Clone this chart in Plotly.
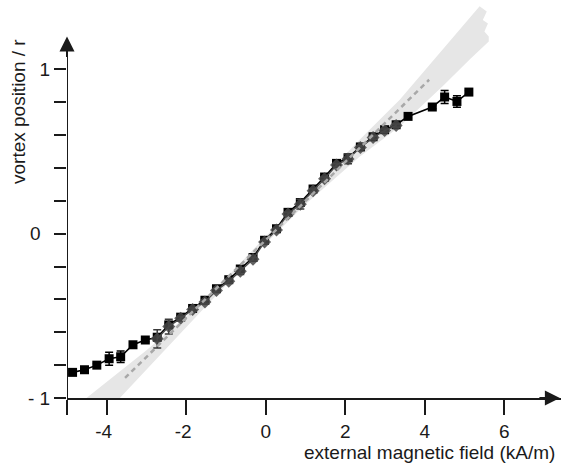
import plotly.graph_objects as go

# ---------------- data ----------------
# experiment (black squares)
exp_x = [-4.86, -4.56, -4.25, -3.94, -3.65, -3.34, -3.03, -2.73, -2.44, -2.14, -1.84,
         -1.53, -1.24, -0.93, -0.64, -0.32, -0.03, 0.27, 0.56, 0.87, 1.19, 1.48, 1.78,
         2.07, 2.38, 2.70, 2.99, 3.28, 3.58, 4.19, 4.50, 4.81, 5.11]
exp_y = [-0.844, -0.828, -0.800, -0.761, -0.749, -0.676, -0.647, -0.630, -0.555, -0.508,
         -0.455, -0.405, -0.335, -0.280, -0.215, -0.145, -0.040, 0.030, 0.130, 0.190,
         0.272, 0.345, 0.428, 0.462, 0.528, 0.590, 0.633, 0.663, 0.714, 0.771, 0.832,
         0.805, 0.862]
exp_err = [0.01, 0.01, 0.01, 0.04, 0.035, 0.01, 0.01, 0.02, 0.01, 0.01, 0.01,
           0.01, 0.01, 0.01, 0.01, 0.01, 0.01, 0.01, 0.01, 0.01, 0.01, 0.01, 0.01,
           0.01, 0.01, 0.01, 0.01, 0.01, 0.01, 0.01, 0.04, 0.035, 0.01]

# second series (gray)
sim_x = [-2.73, -2.44, -2.14, -1.84, -1.53, -1.24, -0.93, -0.64, -0.32, -0.03, 0.27,
         0.56, 0.87, 1.19, 1.48, 1.78, 2.07, 2.38, 2.70, 2.99, 3.28]
sim_y = [-0.640, -0.565, -0.515, -0.462, -0.415, -0.345, -0.290, -0.228, -0.155, -0.050,
         0.022, 0.120, 0.180, 0.262, 0.335, 0.418, 0.455, 0.525, 0.585, 0.628, 0.658]
sim_err = [0.055, 0.045, 0.01, 0.01, 0.01, 0.01, 0.01, 0.02, 0.01, 0.01, 0.01,
           0.01, 0.03, 0.01, 0.01, 0.01, 0.03, 0.01, 0.01, 0.01, 0.01]

# linear model (dashed)
fit_x = [-3.54, 4.11]
fit_y = [-0.878, 0.937]

# model range (light band): upper/left edge then lower/right edge
band_x = [-4.51, -3.0, -1.5, 0.0, 1.0, 2.36, 3.37, 4.45, 5.38,
          5.56, 5.46, 5.59, 5.50, 5.61, 5.61, 5.13, 4.45, 3.37, 2.36, 1.0, 0.0, -1.5, -3.0, -3.67]
band_y = [-1.0, -0.71, -0.40, -0.015, 0.225, 0.572, 0.816, 1.121, 1.384,
          1.353, 1.30, 1.28, 1.23, 1.20, 1.17, 1.06, 0.897, 0.653, 0.469, 0.18, -0.06, -0.44, -0.83, -1.0]

x_ticks = [-5, -4, -2, 0, 2, 4, 6]
x_labels = ["", "-4\u2004", "-2\u2004", "0", "2", "4", "6"]
y_ticks = [-1, -0.8, -0.6, -0.4, -0.2, 0, 0.2, 0.4, 0.6, 0.8, 1]
y_labels = ["- 1", "", "", "", "", "0\u2002", "", "", "", "", "1"]

# ---------------- figure ----------------
W, H = 561, 475
ML, MR, MT, MB = 67, 0, 0, 77
FONT = "Liberation Sans, Arial, sans-serif"
AX = "#1a1a1a"

fig = go.Figure()

fig.add_trace(go.Scatter(x=band_x, y=band_y, mode="lines", fill="toself",
                         fillcolor="#e6e6e6", line=dict(width=0, color="#e6e6e6"),
                         hoverinfo="skip", showlegend=False))

fig.add_trace(go.Scatter(x=exp_x, y=exp_y, mode="lines+markers",
                         line=dict(color="#000000", width=1.6),
                         marker=dict(symbol="square", size=9, color="#000000"),
                         error_y=dict(type="data", array=exp_err, color="#000000",
                                      thickness=1.5, width=4),
                         showlegend=False))

fig.add_trace(go.Scatter(x=sim_x, y=sim_y, mode="lines+markers",
                         line=dict(color="#4a4a4a", width=1.4),
                         marker=dict(symbol="diamond", size=10, color="#464646",
                                     opacity=0.85),
                         error_y=dict(type="data", array=sim_err, color="#3a3a3a",
                                      thickness=1.5, width=4),
                         showlegend=False))

fig.add_trace(go.Scatter(x=fit_x, y=fit_y, mode="lines",
                         line=dict(color="#a8a8a8", width=2.5, dash="5px,4px"),
                         showlegend=False))

# y-axis line (only up to the arrow)
fig.add_shape(type="line", xref="x", yref="y", x0=-5, x1=-5, y0=-1, y1=1.18,
              line=dict(color=AX, width=2))

# arrow heads
fig.add_annotation(x=7.40, y=-1, xref="x", yref="y", ax=-22, ay=0, text="",
                   showarrow=True, arrowhead=2, arrowsize=1.5, arrowwidth=2,
                   arrowcolor=AX, standoff=0)
fig.add_annotation(x=-5, y=1.2, xref="x", yref="y", ax=0, ay=22, text="",
                   showarrow=True, arrowhead=2, arrowsize=1.5, arrowwidth=2,
                   arrowcolor=AX, standoff=0)

# axis titles
plot_w = W - ML - MR
plot_h = H - MT - MB
fig.add_annotation(text="external magnetic field (kA/m)", xref="paper", yref="paper",
                   x=(557 - ML) / plot_w, y=-(452 - (H - MB)) / plot_h,
                   xanchor="right", yanchor="middle", showarrow=False,
                   font=dict(family=FONT, size=19, color=AX))
fig.add_annotation(text="vortex position / r", xref="paper", yref="paper",
                   x=(18 - ML) / plot_w, y=((H - MB) - 112) / plot_h,
                   xanchor="center", yanchor="middle", textangle=-90, showarrow=False,
                   font=dict(family=FONT, size=19, color=AX))

fig.update_xaxes(range=[-5, -5 + plot_w / 39.75], tickmode="array", tickvals=x_ticks,
                 ticktext=x_labels, ticks="outside", ticklen=15, tickwidth=2,
                 tickcolor=AX, showline=True, linewidth=2, linecolor=AX,
                 showgrid=False, zeroline=False,
                 tickfont=dict(family=FONT, size=19, color=AX))
fig.update_yaxes(range=[-1, -1 + plot_h / 164.3], tickmode="array", tickvals=y_ticks,
                 ticktext=y_labels, ticks="outside", ticklen=12, tickwidth=2,
                 tickcolor=AX, showline=False, showgrid=False, zeroline=False,
                 tickfont=dict(family=FONT, size=19, color=AX))

fig.update_layout(width=W, height=H, margin=dict(l=ML, r=MR, t=MT, b=MB, pad=0),
                  plot_bgcolor="white", paper_bgcolor="white", showlegend=False)

fig.write_html("out.html")
